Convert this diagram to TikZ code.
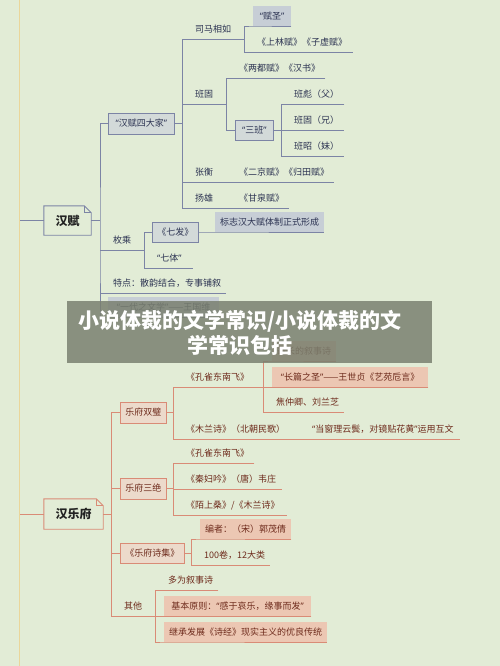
\documentclass[tikz,border=0pt]{standalone}
\usepackage{fontspec}
\setmainfont{Noto Sans CJK SC}
\newfontfamily\quotefont{Noto Sans}
\newcommand{\hq}[1]{{\quotefont “}#1{\quotefont ”}}
\usepackage{xcolor}

\definecolor{bgc}{HTML}{E2ECD6}
\definecolor{axisc}{HTML}{EAD69A}
\definecolor{rootc}{HTML}{222222}
\definecolor{fuline}{HTML}{7C84A5}
\definecolor{futext}{HTML}{2C3352}
\definecolor{fubox}{HTML}{D3DAD9}
\definecolor{fufill}{HTML}{C7CED6}
\definecolor{yfline}{HTML}{D98B76}
\definecolor{yftext}{HTML}{6E2B1C}
\definecolor{yfbox}{HTML}{ECDACB}
\definecolor{yffill}{HTML}{ECC7B3}
\definecolor{capgrey}{HTML}{7A8070}

\begin{document}
\begin{tikzpicture}[x=1pt,y=-1pt]
		\tikzset{
		every node/.style = {font=\fontsize{9}{11}\selectfont},
		root/.style = {inner sep=0pt, text=rootc, font=\fontsize{12}{14}\selectfont\bfseries},
		branch/.style = {anchor=west, inner xsep=5pt, inner ysep=0pt, minimum height=20pt,
			text height=8.5pt, text depth=2pt, line width=0.9pt},
		tag/.style = {anchor=south west, inner xsep=5pt, inner ysep=0pt, minimum height=20pt,
			text height=8.5pt, text depth=2pt},
		leaf/.style = {anchor=south west, inner sep=0pt, text width=#1, align=left,
			text height=10pt, text depth=6pt, execute at begin node={\hspace*{13pt}}},
		fu line/.style = {draw=fuline, line width=0.9pt},
		yf line/.style = {draw=yfline, line width=0.9pt},
		fu branch/.style = {branch, draw=fuline, fill=fubox, text=futext},
		yf branch/.style = {branch, draw=yfline, fill=yfbox, text=yftext},
		fu tag/.style = {tag, fill=fufill, text=futext},
		yf tag/.style = {tag, fill=yffill, text=yftext},
		fu leaf/.style = {leaf=#1, text=futext},
		yf leaf/.style = {leaf=#1, text=yftext},
		caption/.style = {fill=capgrey, fill opacity=0.85, minimum width=365pt, minimum height=62pt},
		caption text/.style = {text=white, align=center, font=\fontsize{21}{25}\selectfont\bfseries}
		}

		\useasboundingbox (0,0) rectangle (500,666);
		\fill[bgc] (0,0) rectangle (500,666);
		\draw[draw=axisc, line width=1.4pt] (19.5,0) -- (19.5,666);

		\coordinate (lhf) at (20,220.5);
		\coordinate (lhy) at (20,514);

		\node[root, minimum width=47pt, minimum height=29pt] (hanfu) at (67.5,220.5) {汉赋};
		\node[fu branch, minimum width=66pt, minimum height=21pt] (sidajia) at (108,123.5) {\hq{汉赋四大家}};

		\node[fu leaf=62pt] (simaxiangru) at (182,39) {司马相如};
		\node[fu tag, minimum width=38pt] (fusheng) at (253,26) {\hq{赋圣}};
		\node[fu leaf=109pt] (shanglin) at (244,52) {《上林赋》《子虚赋》};

		\node[fu leaf=44pt] (bangu) at (182,104) {班固};
		\node[fu leaf=99pt] (liangdu) at (226,78) {《两都赋》《汉书》};
		\node[fu branch, minimum width=38pt] (sanban) at (235,130) {\hq{三班}};
		\node[fu leaf=63pt] (banbiao) at (281,104) {班彪（父）};
		\node[fu leaf=63pt] (bangu2) at (281,130) {班固（兄）};
		\node[fu leaf=63pt] (banzhao) at (281,156) {班昭（妹）};

		\node[fu leaf=44pt] (zhangheng) at (182,182) {张衡};
		\node[fu leaf=108pt] (erjing) at (226,182) {《二京赋》《归田赋》};
		\node[fu leaf=44pt] (yangxiong) at (182,208) {扬雄};
		\node[fu leaf=63pt] (ganquan) at (226,208) {《甘泉赋》};

		\node[fu leaf=44pt] (meicheng) at (100,250) {枚乘};
		\node[fu branch, minimum width=46pt] (qifa) at (152,232) {《七发》};
		\node[fu tag] (biaozhi) at (215,232) {标志汉大赋体制正式形成};
		\node[fu leaf=49pt] (qiti) at (144,268) {\hq{七体}};

		\node[fu leaf=126pt] (tedian) at (100,293) {特点：散韵结合，专事铺叙};
		\node[fu tag, minimum width=111pt] (yidai) at (108,317) {\hq{一代之文学}——王国维};

		\draw[fu line] (lhf) -- (hanfu.west);
		\draw[fu line] (hanfu.south west) -- (hanfu.north west) -- ([xshift=-7pt]hanfu.north east)
			-- ([yshift=-7pt]hanfu.north east) -- (hanfu.south east) -- cycle;
		\draw[fu line] ([xshift=-7pt]hanfu.north east) |- ([yshift=-7pt]hanfu.north east);
		\draw[fu line] (hanfu.east) -- (hanfu.east -| meicheng.south west);
		\draw[fu line] (sidajia.west) -| (meicheng.south west) |- (yidai.south west) -- (yidai.south east);
		\draw[fu line] (meicheng.south west) -- (meicheng.south east);
		\draw[fu line] (tedian.south west) -- (tedian.south east);

		\draw[fu line] (sidajia.east) -- (sidajia.east -| simaxiangru.south west);
		\draw[fu line] (simaxiangru.south east) -- (simaxiangru.south west) -- (yangxiong.south west) -- (yangxiong.south east);
		\draw[fu line] (fusheng.south east) -- (fusheng.south west) -| (shanglin.south west) -- (shanglin.south east);
		\draw[fu line] (bangu.south west) -- (bangu.south east);
		\draw[fu line] (liangdu.south east) -- (liangdu.south west) |- (sanban.west);
		\draw[fu line] (sanban.east) -- (sanban.east -| banbiao.south west);
		\draw[fu line] (banbiao.south east) -- (banbiao.south west) -- (banzhao.south west) -- (banzhao.south east);
		\draw[fu line] (bangu2.south west) -- (bangu2.south east);
		\draw[fu line] (zhangheng.south west) -- (erjing.south east);
		\draw[fu line] (yangxiong.south east) -- (ganquan.south east);

		\draw[fu line] (qifa.west) -| (qiti.south west) -- (qiti.south east);
		\draw[fu line] (qifa.east) -- (biaozhi.south west) -- (biaozhi.south east);

		\node[root, minimum width=59pt, minimum height=30pt] (hanyuefu) at (73.5,514) {汉乐府};

		\node[yf branch, minimum width=46pt, minimum height=21pt] (yfsb) at (120,412.5) {乐府双璧};
		\node[yf leaf=90pt] (kongque1) at (173,387) {《孔雀东南飞》};
		\node[yf tag] (zuichang) at (272,361) {最长的叙事诗};
		\node[yf tag, minimum width=156pt] (changpian) at (272,387) {\hq{长篇之圣}——王世贞《艺苑卮言》};
		\node[yf leaf=81pt] (jiaozhong) at (263,412) {焦仲卿、刘兰芝};
		\node[yf leaf=126pt] (mulan) at (173,439) {《木兰诗》（北朝民歌）};
		\node[yf leaf=161pt] (dangchuang) at (299,439) {\hq{当窗理云鬓，对镜贴花黄}运用互文};

		\node[yf branch, minimum width=46pt, minimum height=21pt] (yfsj) at (120,488.5) {乐府三绝};
		\node[yf leaf=81pt] (kongque2) at (173,463) {《孔雀东南飞》};
		\node[yf leaf=109pt] (qinfu) at (173,489) {《秦妇吟》（唐）韦庄};
		\node[yf leaf=114pt] (moshang) at (173,515) {《陌上桑》/《木兰诗》};

		\node[yf branch, minimum width=63pt] (yfsj2) at (120,553) {《乐府诗集》};
		\node[yf tag] (bianzhe) at (200,539) {编者：（宋）郭茂倩};
		\node[yf leaf=79pt] (baijuan) at (191,565) {100卷，12大类};

		\node[yf leaf=44pt] (qita) at (111,616) {其他};
		\node[yf leaf=63pt] (duowei) at (155,590) {多为叙事诗};
		\node[yf tag, minimum width=147pt] (yuanze) at (164,616) {基本原则：\hq{感于哀乐，缘事而发}};
		\node[yf tag] (jicheng) at (164,642) {继承发展《诗经》现实主义的优良传统};

		\draw[yf line] (lhy) -- (hanyuefu.west);
		\draw[yf line] (hanyuefu.south west) -- (hanyuefu.north west) -- ([xshift=-7pt]hanyuefu.north east)
			-- ([yshift=-7pt]hanyuefu.north east) -- (hanyuefu.south east) -- cycle;
		\draw[yf line] ([xshift=-7pt]hanyuefu.north east) |- ([yshift=-7pt]hanyuefu.north east);
		\draw[yf line] (hanyuefu.east) -- (hanyuefu.east -| qita.south west);
		\draw[yf line] (yfsb.west) -| (qita.south west) -- (qita.south east);
		\draw[yf line] (yfsj.west) -- (yfsj.west -| qita.south west);
		\draw[yf line] (yfsj2.west) -- (yfsj2.west -| qita.south west);

		\draw[yf line] (yfsb.east) -- (yfsb.east -| kongque1.south west);
		\draw[yf line] (kongque1.south east) -- (kongque1.south west) -- (mulan.south west) -- (mulan.south east);
		\draw[yf line] (zuichang.south east) -- (zuichang.south west) -| (jiaozhong.south west) -- (jiaozhong.south east);
		\draw[yf line] (changpian.south east) -- (changpian.south west -| jiaozhong.south west);
		\draw[yf line] (dangchuang.south west) -- (dangchuang.south east);

		\draw[yf line] (yfsj.east) -- (yfsj.east -| kongque2.south west);
		\draw[yf line] (kongque2.south east) -- (kongque2.south west) -- (moshang.south west) -- (moshang.south east);
		\draw[yf line] (qinfu.south west) -- (qinfu.south east);

		\draw[yf line] (yfsj2.east) -- (yfsj2.east -| baijuan.south west);
		\draw[yf line] (bianzhe.south east) -- (bianzhe.south west) -| (baijuan.south west) -- (baijuan.south east);

		\draw[yf line] (duowei.south east) -- (duowei.south west) |- (jicheng.south west) -- (jicheng.south east);
		\draw[yf line] (yuanze.south east) -- (yuanze.south west -| duowei.south west);

		\node[caption] (capbox) at (249.5,332) {};
		\node[caption text] (captext) at (240,332.5) {小说体裁的文学常识/小说体裁的文\\学常识包括};

\end{tikzpicture}
\end{document}
